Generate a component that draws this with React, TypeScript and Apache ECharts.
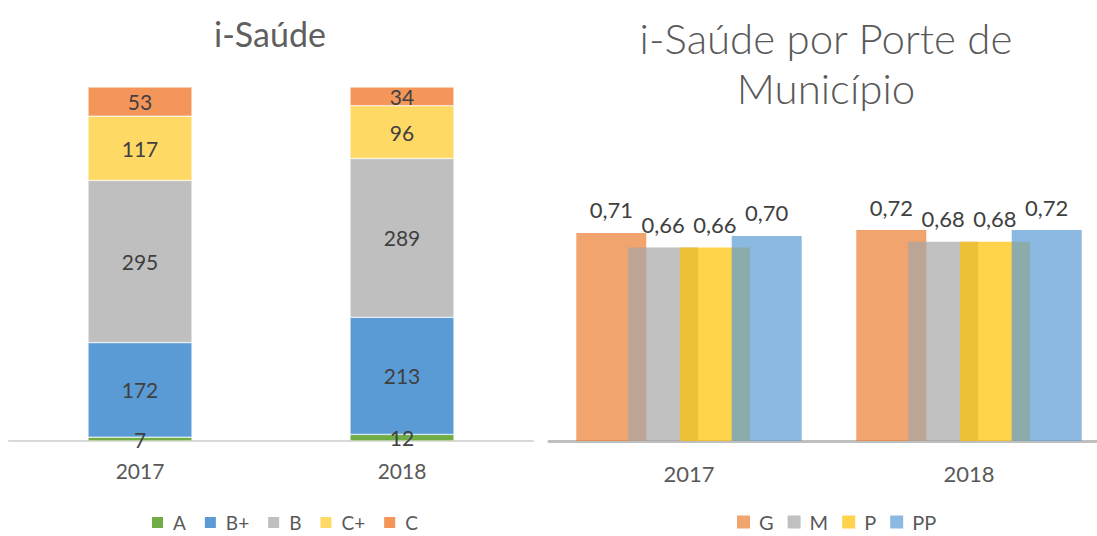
import React, { useEffect, useRef } from "react";
import * as echarts from "echarts";

const leftCategories = ["2017", "2018"];
const aValues = [7, 12];
const bPlusValues = [172, 213];
const bValues = [295, 289];
const cPlusValues = [117, 96];
const cValues = [53, 34];

const rightCategories = ["2017", "2018"];
const gValues = [0.71, 0.72];
const mValues = [0.66, 0.68];
const pValues = [0.66, 0.68];
const ppValues = [0.7, 0.72];

const FONT = "Lato, 'Open Sans', sans-serif";

export default function App() {
  const ref = useRef<HTMLDivElement>(null);
  useEffect(() => {
    if (!ref.current) return;
    const chart = echarts.init(ref.current, null, { renderer: "svg" });
    const leftLabel = {
      show: true,
      position: "inside",
      fontSize: 21,
      color: "#404040",
      fontFamily: FONT,
    };
    const rightLabel = {
      show: true,
      position: "top",
      distance: 12,
      fontSize: 22,
      color: "#404040",
      fontFamily: FONT,
      formatter: (p: any) => Number(p.value).toFixed(2).replace(".", ","),
    };
    const stack = (name: string, data: number[], color: string) => ({
      name,
      type: "bar",
      stack: "total",
      xAxisIndex: 0,
      yAxisIndex: 0,
      barWidth: 104,
      data,
      itemStyle: { color, borderColor: "#ffffff", borderWidth: 0.5 },
      label: leftLabel,
    });
    const grouped = (name: string, data: number[], color: string) => ({
      name,
      type: "bar",
      xAxisIndex: 1,
      yAxisIndex: 1,
      barWidth: 70,
      barGap: "-26%",
      data,
      itemStyle: { color },
      label: rightLabel,
    });
    chart.setOption({
      animation: false,
      backgroundColor: "#ffffff",
      textStyle: { fontFamily: FONT },
      title: [
        {
          text: "i-Saúde",
          left: 270,
          top: 13,
          padding: 0,
          textAlign: "center",
          textStyle: {
            fontSize: 34,
            lineHeight: 40,
            fontWeight: 400,
            color: "#5F5F5F",
            fontFamily: FONT,
          },
        },
        {
          text: "i-Saúde por Porte de\nMunicípio",
          left: 826,
          top: 13,
          padding: 0,
          textAlign: "center",
          textStyle: {
            fontSize: 42,
            lineHeight: 50,
            fontWeight: 300,
            color: "#595959",
            fontFamily: FONT,
          },
        },
      ],
      legend: [
        {
          data: ["A", "B+", "B", "C+", "C"],
          left: 150,
          top: 513,
          padding: 0,
          icon: "rect",
          itemWidth: 13,
          itemHeight: 13,
          itemGap: 17,
          textStyle: { fontSize: 19, color: "#595959", fontFamily: FONT, padding: [0, 0, 0, 4] },
        },
        {
          data: ["G", "M", "P", "PP"],
          left: 737,
          top: 512,
          padding: 0,
          icon: "rect",
          itemWidth: 13,
          itemHeight: 13,
          itemGap: 14,
          textStyle: { fontSize: 20, color: "#595959", fontFamily: FONT, padding: [0, 0, 0, 4] },
        },
      ],
      grid: [
        { left: 9, top: 87, width: 524, height: 354, outerBoundsMode: "none" },
        { left: 549, top: 148, width: 560, height: 293, outerBoundsMode: "none" },
      ],
      xAxis: [
        {
          type: "category",
          gridIndex: 0,
          data: leftCategories,
          axisLine: { lineStyle: { color: "#D9D9D9", width: 2 } },
          axisTick: { show: false },
          axisLabel: { fontSize: 21, color: "#595959", margin: 19, fontFamily: FONT },
        },
        {
          type: "category",
          gridIndex: 1,
          data: rightCategories,
          axisLine: { lineStyle: { color: "#BFBFBF", width: 3 } },
          axisTick: { show: false },
          axisLabel: { fontSize: 22, color: "#595959", margin: 21, fontFamily: FONT },
        },
      ],
      yAxis: [
        { type: "value", gridIndex: 0, min: 0, max: 644, show: false },
        { type: "value", gridIndex: 1, min: 0, max: 1, show: false },
      ],
      series: [
        stack("A", aValues, "#70AD47"),
        stack("B+", bPlusValues, "#5B9BD5"),
        stack("B", bValues, "#BFBFBF"),
        stack("C+", cPlusValues, "#FFD966"),
        stack("C", cValues, "#F4965A"),
        grouped("G", gValues, "rgba(237,125,49,0.7)"),
        grouped("M", mValues, "rgba(165,165,165,0.7)"),
        grouped("P", pValues, "rgba(255,192,0,0.7)"),
        grouped("PP", ppValues, "rgba(91,155,213,0.7)"),
      ],
    });
    return () => chart.dispose();
  }, []);
  return (
    <div
      ref={ref}
      style={{ position: "absolute", left: 0, top: 0, width: 1097, height: 536 }}
    />
  );
}
